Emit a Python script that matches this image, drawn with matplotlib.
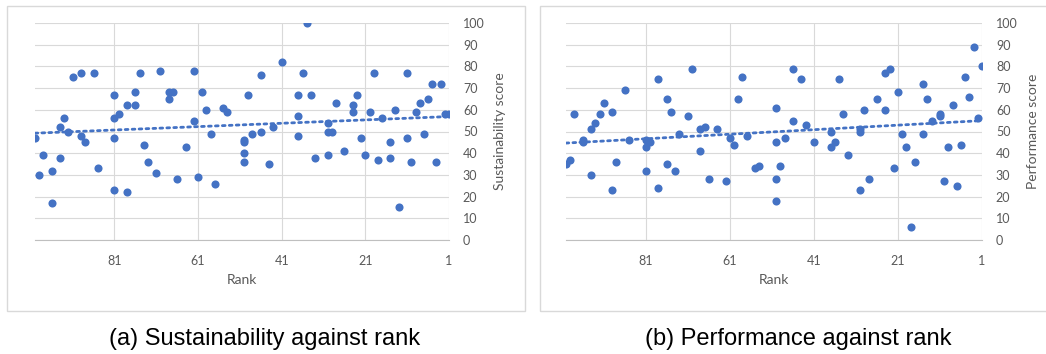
import numpy as np
import matplotlib.pyplot as plt
from matplotlib.patches import Rectangle

# sustainability score vs rank
rank_a = [100, 99, 98, 96, 96, 94, 94, 93, 92, 91, 89, 89, 88, 86, 85, 81, 81, 81, 81, 80,
          78, 78, 76, 76, 75, 74, 73, 71, 70, 68, 68, 67, 66, 64, 62, 62, 61, 60, 59, 58,
          57, 55, 54, 50, 50, 50, 50, 49, 48, 46, 46, 44, 43, 41, 37, 37, 37, 36, 35, 34,
          33, 30, 30, 29, 30, 28, 26, 24, 24, 23, 22, 21, 20, 19, 18, 17, 15, 15, 14, 13,
          11, 11, 10, 9, 8, 7, 6, 5, 4, 3, 2, 1]
sust = [47, 30, 39, 32, 17, 38, 52, 56, 50, 75, 77, 48, 45, 77, 33, 67, 56, 47, 23, 58,
        62, 22, 68, 62, 77, 44, 36, 31, 78, 68, 65, 68, 28, 43, 78, 55, 29, 68, 60, 49,
        26, 61, 59, 46, 45, 40, 36, 67, 49, 50, 76, 35, 52, 82, 48, 57, 67, 77, 100, 67,
        38, 54, 50, 50, 39, 63, 41, 62, 59, 67, 47, 39, 59, 77, 37, 56, 45, 38, 60, 15,
        77, 47, 36, 59, 63, 49, 65, 72, 36, 72, 58, 58]

# performance score vs rank
rank_b = [100, 99, 98, 96, 96, 94, 94, 93, 92, 91, 89, 89, 88, 86, 85, 81, 81, 81, 80, 78,
          78, 76, 76, 75, 74, 73, 71, 70, 68, 68, 67, 66, 64, 62, 61, 60, 59, 58, 57, 55,
          54, 50, 50, 50, 50, 49, 48, 46, 46, 44, 43, 41, 37, 37, 36, 35, 34, 33, 30, 30,
          30, 29, 28, 26, 24, 23, 24, 22, 21, 20, 19, 18, 17, 15, 15, 14, 13, 11, 11, 10,
          9, 8, 7, 6, 5, 4, 3, 2, 1]
perf = [35, 37, 58, 46, 45, 51, 30, 54, 58, 63, 59, 23, 36, 69, 46, 46, 43, 32, 45, 74,
        24, 65, 35, 59, 32, 49, 57, 79, 51, 41, 52, 28, 51, 27, 47, 44, 65, 75, 48, 33,
        34, 61, 45, 28, 18, 34, 47, 79, 55, 74, 53, 45, 50, 43, 45, 74, 58, 39, 51, 50,
        23, 60, 28, 65, 77, 79, 60, 33, 68, 49, 43, 6, 36, 72, 49, 65, 55, 58, 57, 27,
        43, 62, 25, 44, 75, 66, 89, 56, 80]

xticks = [81, 61, 41, 21, 1]
blue = "#4472C4"
grey_txt = "#595959"
W, H = 1046, 354

fig = plt.figure(figsize=(W / 100, H / 100), dpi=100)

# light frames around each panel
fig.patches.append(Rectangle((7 / W, 1 - 311 / H), 518 / W, 305 / H, transform=fig.transFigure,
                             fill=False, edgecolor="#d9d9d9", linewidth=1))
fig.patches.append(Rectangle((540 / W, 1 - 311 / H), 520 / W, 305 / H, transform=fig.transFigure,
                             fill=False, edgecolor="#d9d9d9", linewidth=1))


def panel(left, width, x, y, ylabel):
    ax = fig.add_axes([left / W, 1 - 240 / H, width / W, 217 / H])
    ax.scatter(x, y, s=34, color=blue, zorder=3, linewidths=0)
    k, b = np.polyfit(x, y, 1)
    xs = np.array([100, 1])
    ax.plot(xs, k * xs + b, color=blue, linewidth=2, linestyle=(0, (1, 1.5)),
            dash_capstyle="round", zorder=2)
    ax.set_xlim(100, 1)
    ax.set_ylim(0, 100)
    ax.set_xticks(xticks)
    ax.set_yticks(range(0, 101, 10))
    ax.yaxis.tick_right()
    ax.yaxis.set_label_position("right")
    ax.grid(True, color="#d9d9d9", linewidth=0.8)
    ax.set_axisbelow(True)
    for s in ["top", "left", "right"]:
        ax.spines[s].set_visible(False)
    ax.spines["bottom"].set_color("#bfbfbf")
    ax.tick_params(length=0, labelsize=9, labelcolor=grey_txt)
    ax.tick_params(axis="x", pad=11)
    ax.tick_params(axis="y", pad=10)
    for lab in ax.get_xticklabels() + ax.get_yticklabels():
        lab.set_family("Lato")
    ax.set_xlabel("Rank", family="Lato", fontsize=10, color=grey_txt, labelpad=5)
    ax.set_ylabel(ylabel, family="Lato", fontsize=10, color=grey_txt, labelpad=7)
    return ax


panel(35, 414, rank_a, sust, "Sustainability score")
panel(566, 416, rank_b, perf, "Performance score")

fig.text(265 / W, 1 - 339 / H, "(a) Sustainability against rank", ha="center", va="center",
         fontsize=17, family="Liberation Sans")
fig.text(798 / W, 1 - 339 / H, "(b) Performance against rank", ha="center", va="center",
         fontsize=17, family="Liberation Sans")

plt.savefig("out.png", dpi=100)
